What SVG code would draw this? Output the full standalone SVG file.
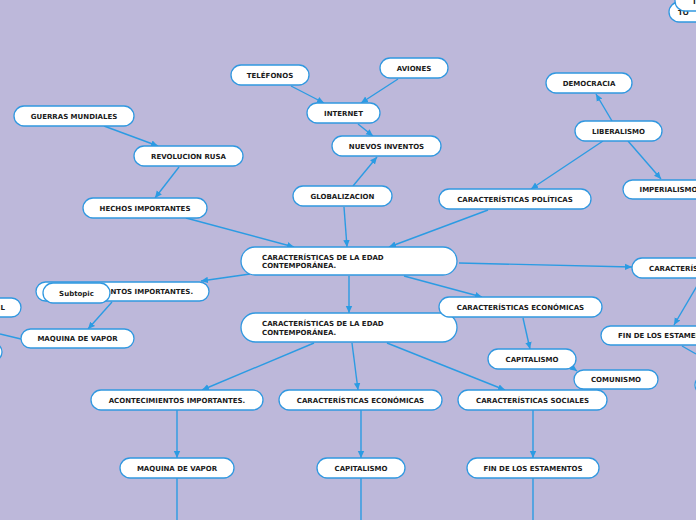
<svg xmlns="http://www.w3.org/2000/svg" width="696" height="520" viewBox="0 0 696 520">
<style>
.bg{fill:#bdb8da}
.n rect{fill:#ffffff;stroke:#3098e0;stroke-width:1.3}
.n text{font-family:"DejaVu Sans",Verdana,sans-serif;font-weight:bold;font-size:7px;fill:#1a1a1a;text-anchor:middle}
.n text.l{text-anchor:start}
.n text.e{text-anchor:end}
#connectors path{fill:none;stroke:#2b9be3;stroke-width:1.4}
#connectors path.a{marker-end:url(#arr)}
</style>
<defs>
<marker id="arr" markerUnits="userSpaceOnUse" markerWidth="8" markerHeight="8" refX="7" refY="4" orient="auto">
<path d="M0,0.8 L7,4 L0,7.2 z" fill="#2b9be3"/>
</marker>
</defs>
<rect class="bg" x="0" y="0" width="696" height="520"/>
<g id="connectors">
<path class="a" d="M104,126 L158,146"/>
<path class="a" d="M179,167 L155,198"/>
<path class="a" d="M291,86 L324,103"/>
<path class="a" d="M398,79 L361,103"/>
<path class="a" d="M358,124 L373,136"/>
<path class="a" d="M353,186 L377,157"/>
<path class="a" d="M344,207 L347,247"/>
<path class="a" d="M186,218 L294,247"/>
<path class="a" d="M488,210 L389,247"/>
<path class="a" d="M612,121 L596,94"/>
<path class="a" d="M603,141 L531,189"/>
<path class="a" d="M628,141 L661,179"/>
<path class="a" d="M250,274 L201,281"/>
<path class="a" d="M349,276 L349,313"/>
<path class="a" d="M404,276 L482,297"/>
<path class="a" d="M459,263 L632,267"/>
<path class="a" d="M523,318 L530,349"/>
<path class="a" d="M570,366 L577,371"/>
<path class="a" d="M697,286 L674,325"/>
<path d="M682,346 L696,354"/>
<path class="a" d="M112,302 L88,329"/>
<path d="M0,334 L21,339"/>
<path class="a" d="M314,343 L202,390"/>
<path class="a" d="M352,343 L358,390"/>
<path class="a" d="M387,343 L505,390"/>
<path class="a" d="M177,410 L177,458"/>
<path class="a" d="M361,410 L361,458"/>
<path class="a" d="M533,410 L533,458"/>
<path d="M177,478 L177,520"/>
<path d="M361,478 L361,520"/>
<path d="M533,478 L533,520"/>
</g>
<g id="n-guerras" class="n"><rect x="14" y="106" width="120" height="20" rx="10"/><text x="74" y="118.5">GUERRAS MUNDIALES</text></g>
<g id="n-revolucion" class="n"><rect x="134" y="146" width="109" height="20" rx="10"/><text x="188.5" y="158.5">REVOLUCION RUSA</text></g>
<g id="n-telefonos" class="n"><rect x="231" y="65" width="78" height="20" rx="10"/><text x="270" y="77.5">TELÉFONOS</text></g>
<g id="n-aviones" class="n"><rect x="380" y="58" width="68" height="20" rx="10"/><text x="414" y="70.5">AVIONES</text></g>
<g id="n-internet" class="n"><rect x="307" y="103" width="73" height="20" rx="10"/><text x="343.5" y="115.5">INTERNET</text></g>
<g id="n-inventos" class="n"><rect x="332" y="136" width="109" height="20" rx="10"/><text x="386.5" y="148.5">NUEVOS INVENTOS</text></g>
<g id="n-globalizacion" class="n"><rect x="293" y="186" width="99" height="20" rx="10"/><text x="342.5" y="198.5">GLOBALIZACION</text></g>
<g id="n-democracia" class="n"><rect x="546" y="73" width="86" height="20" rx="10"/><text x="589" y="85.5">DEMOCRACIA</text></g>
<g id="n-liberalismo" class="n"><rect x="575" y="121" width="87" height="20" rx="10"/><text x="618.5" y="133.5">LIBERALISMO</text></g>
<g id="n-imperialismo" class="n"><rect x="623" y="180" width="91" height="19" rx="9.5"/><text x="668.5" y="192">IMPERIALISMO</text></g>
<g id="n-politicas" class="n"><rect x="439" y="189" width="152" height="20" rx="10"/><text x="515" y="201.5">CARACTERÍSTICAS POLÍTICAS</text></g>
<g id="n-hechos" class="n"><rect x="83" y="198" width="124" height="20" rx="10"/><text x="145" y="210.5">HECHOS IMPORTANTES</text></g>
<g id="n-main1" class="n"><rect x="241" y="247" width="216" height="28" rx="14"/><text class="l" x="262" y="259.5">CARACTERÍSTICAS DE LA EDAD</text><text class="l" x="262" y="268">CONTEMPORÁNEA.</text></g>
<g id="n-main2" class="n"><rect x="241" y="313" width="216" height="29" rx="14.5"/><text class="l" x="262" y="325.5">CARACTERÍSTICAS DE LA EDAD</text><text class="l" x="262" y="334.5">CONTEMPORÁNEA.</text></g>
<g id="n-acont-left" class="n"><rect x="36" y="282" width="173" height="19" rx="9.5"/><text class="l" x="110.5" y="294">NTOS IMPORTANTES.</text></g>
<g id="n-subtopic" class="n"><rect x="43" y="283" width="67" height="20" rx="10"/><text x="76.5" y="295.5">Subtopic</text></g>
<g id="n-l-left" class="n"><rect x="-20" y="298" width="41" height="19" rx="9.5"/><text class="e" x="5" y="310">L</text></g>
<g id="n-maquina-left" class="n"><rect x="21" y="329" width="113" height="19" rx="9.5"/><text x="77.5" y="341">MAQUINA DE VAPOR</text></g>
<g id="n-partial-left" class="n"><rect x="-30" y="343" width="32" height="18" rx="9"/></g>
<g id="n-econ-right" class="n"><rect x="439" y="297" width="163" height="20" rx="10"/><text x="520.5" y="309.5">CARACTERÍSTICAS ECONÓMICAS</text></g>
<g id="n-soc-right" class="n"><rect x="632" y="258" width="110" height="20" rx="10"/><text class="l" x="649" y="270.5">CARACTERÍSTICAS SOCIALES</text></g>
<g id="n-fin-right" class="n"><rect x="601" y="326" width="140" height="19" rx="9.5"/><text class="l" x="618" y="338">FIN DE LOS ESTAMENTOS</text></g>
<g id="n-capitalismo-mid" class="n"><rect x="488" y="349" width="88" height="20" rx="10"/><text x="532" y="361.5">CAPITALISMO</text></g>
<g id="n-comunismo" class="n"><rect x="574" y="370" width="84" height="19" rx="9.5"/><text x="616" y="382">COMUNISMO</text></g>
<g id="n-partial-right" class="n"><rect x="695" y="376" width="30" height="18" rx="9"/></g>
<g id="n-top-right-a" class="n"><rect x="669" y="2" width="60" height="20" rx="10"/><text class="l" x="678" y="14.5">TO</text></g>
<g id="n-top-right-b" class="n"><rect x="675" y="-9" width="60" height="20" rx="10"/><text class="l" x="692" y="3.5">T</text></g>
<g id="n-acont" class="n"><rect x="91" y="390" width="172" height="20" rx="10"/><text x="177" y="402.5">ACONTECIMIENTOS IMPORTANTES.</text></g>
<g id="n-econ" class="n"><rect x="279" y="390" width="163" height="20" rx="10"/><text x="360.5" y="402.5">CARACTERÍSTICAS ECONÓMICAS</text></g>
<g id="n-soc" class="n"><rect x="458" y="390" width="149" height="20" rx="10"/><text x="532.5" y="402.5">CARACTERÍSTICAS SOCIALES</text></g>
<g id="n-maquina" class="n"><rect x="120" y="458" width="114" height="20" rx="10"/><text x="177" y="470.5">MAQUINA DE VAPOR</text></g>
<g id="n-capitalismo" class="n"><rect x="317" y="458" width="88" height="20" rx="10"/><text x="361" y="470.5">CAPITALISMO</text></g>
<g id="n-fin" class="n"><rect x="467" y="458" width="132" height="20" rx="10"/><text x="533" y="470.5">FIN DE LOS ESTAMENTOS</text></g>
</svg>
